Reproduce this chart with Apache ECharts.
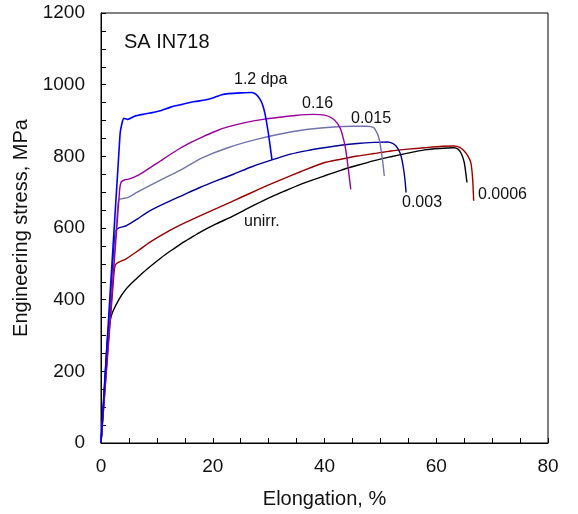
<!DOCTYPE html>
<html>
<head>
<meta charset="utf-8">
<script src="https://cdn.jsdelivr.net/npm/echarts@6/dist/echarts.min.js"></script>
<style>
  html, body { margin: 0; padding: 0; background: #fff; }
  #container { width: 578px; height: 514px; }
</style>
</head>
<body>
<div id="container"></div>
<script>
var dom = document.getElementById("container");
var myChart = echarts.init(dom);

// curve names (dose) and colours
var names = ['unirr.', '0.0006', '0.003', '0.015', '0.16', '1.2 dpa'];
var colors = ['#000000', '#990000', '#000099', '#7373ab', '#990099', '#0000ff'];

// [elongation %, stress MPa]
var unirr = [[0,0],[0.9,230],[1.2,300],[1.6,340],[2.1,366],[3.3,403],[4.4,428],[5.7,449],[7.2,471],[8.7,491],[10.2,510],[11.7,528],[13.2,544],[14.7,560],[16.2,574],[17.7,588],[20.7,612],[23.7,634],[26.7,658],[29.7,681],[32.7,702],[35.7,722],[39.9,745],[42.9,761],[45.9,775],[48.9,788],[51.9,799],[54.9,809],[57.9,818],[60.5,822],[63.2,824],[63.9,820],[64.4,810],[64.8,795],[65.1,775],[65.5,727]];
var d0006 = [[0,0],[2.3,470],[2.6,498],[3.2,505],[4.5,514],[6.5,535],[8.7,560],[11.7,588],[14.7,612],[17.7,634],[20.7,655],[23.7,676],[26.7,697],[29.7,718],[32.7,738],[35.7,757],[39.9,782],[42.9,792],[45.9,801],[48.9,808],[51.9,815],[54.9,820],[57.9,824],[61,828],[63.2,829],[64.2,825],[65,815],[65.7,800],[66.2,782],[66.5,740],[66.7,676]];
var d003 = [[0,0],[2.4,565],[2.7,594],[3.3,601],[4.5,606],[6.5,625],[8.7,648],[11.7,671],[14.7,692],[17.7,713],[20.7,732],[23.7,750],[27,771],[30.6,790],[33.9,806],[36.9,816],[39.9,824],[42.9,831],[45.9,836],[48.9,839],[51.3,840],[52.2,836],[52.8,829],[53.3,817],[53.7,801],[54.1,770],[54.4,735],[54.6,699]];
var d015 = [[0,0],[3,660],[3.3,680],[4.8,685],[6.5,700],[8.7,718],[11.7,742],[14.7,766],[18,795],[22.7,824],[28,848],[33.9,868],[38,877],[41,881],[45,884],[47.6,884],[48.8,880],[49.5,862],[49.8,847],[50.2,810],[50.5,775],[50.7,745]];
var d16 = [[0,0],[3.3,700],[3.6,728],[4.2,734],[5.1,737],[6.5,746],[8,760],[11,791],[13.8,819],[16,838],[18,853],[20.5,870],[22.7,882],[25.8,894],[29,903],[32,909],[34.8,914],[38,917],[40,915],[41.3,907],[42.3,892],[42.9,875],[43.4,848],[43.8,819],[44.3,760],[44.7,708]];
var d12 = [[0,0],[3.4,860],[3.8,895],[4.1,906],[4.8,903],[6,912],[7.8,918],[9.5,923],[10.8,928],[12.6,938],[14.5,945],[16.8,953],[18.6,957],[20,963],[21.6,972],[22.8,975],[25,977],[27,978],[27.8,972],[28.5,958],[29,940],[29.4,915],[29.9,870],[30.3,825],[30.6,790]];
var curves = [unirr, d0006, d003, d015, d16, d12];

// annotation text, placed near each curve
var notes = [
    { text: 'SA IN718', x: 124, y: 42, size: 20 },
    { text: '1.2 dpa', x: 234, y: 80, size: 16 },
    { text: '0.16', x: 302, y: 104, size: 16 },
    { text: '0.015', x: 351, y: 119, size: 16 },
    { text: 'unirr.', x: 244, y: 222, size: 16 },
    { text: '0.003', x: 402, y: 203, size: 16 },
    { text: '0.0006', x: 478, y: 195, size: 16 }
];

var font = '"Liberation Sans", Arial, sans-serif';

var series = curves.map(function (c, i) {
    return {
        name: names[i],
        type: 'line',
        data: c,
        showSymbol: false,
        smooth: 0.2,
        lineStyle: { color: colors[i], width: i == 5 ? 1.6 : 1.4 },
        z: 3
    };
});

option = {
    backgroundColor: '#fff',
    animation: false,
    grid: {
        left: 101, top: 13, width: 447, height: 432,
        show: true, borderColor: '#000', borderWidth: 1
    },
    xAxis: {
        type: 'value', min: 0, max: 80, interval: 20,
        name: 'Elongation, %', nameLocation: 'middle', nameGap: 46,
        nameTextStyle: { fontFamily: font, fontSize: 20, color: '#111' },
        axisLine: { lineStyle: { color: '#000', width: 1 } },
        axisTick: { inside: true, length: 5, lineStyle: { color: '#000' } },
        minorTick: { show: true, splitNumber: 4, length: 5, lineStyle: { color: '#000' } },
        axisLabel: { margin: 14, fontFamily: font, fontSize: 19, color: '#111' },
        splitLine: { show: false }
    },
    yAxis: {
        type: 'value', min: 0, max: 1200, interval: 200,
        name: 'Engineering stress, MPa', nameLocation: 'middle', nameGap: 64,
        nameTextStyle: { fontFamily: font, fontSize: 20, color: '#111' },
        axisLine: { show: true, lineStyle: { color: '#000', width: 1 } },
        axisTick: { show: true, inside: true, length: 5, lineStyle: { color: '#000' } },
        minorTick: { show: true, splitNumber: 4, length: 5, lineStyle: { color: '#000' } },
        axisLabel: {
            margin: 16, fontFamily: font, fontSize: 19, color: '#111',
            formatter: function (v) { return String(v); }
        },
        splitLine: { show: false }
    },
    graphic: notes.map(function (n) {
        return {
            type: 'text', left: n.x, top: n.y - n.size / 2,
            style: { text: n.text, font: n.size + 'px ' + font, fill: '#111' }
        };
    }),
    series: series
};
myChart.setOption(option, true);
</script>
</body>
</html>
